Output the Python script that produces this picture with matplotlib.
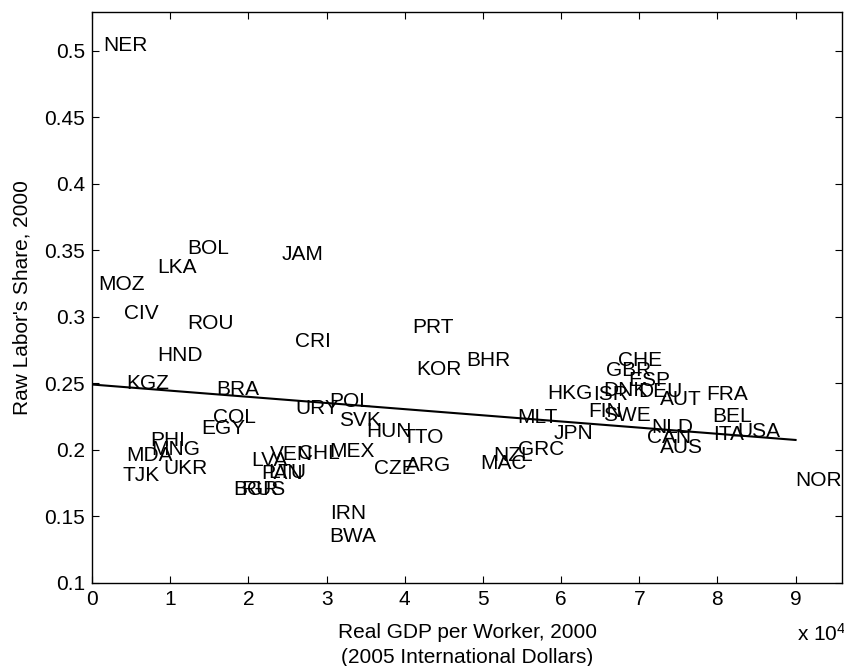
import matplotlib
matplotlib.use("Agg")
import matplotlib.pyplot as plt
from matplotlib.ticker import FixedLocator, FuncFormatter

plt.rcParams['font.family'] = ['Liberation Sans', 'DejaVu Sans']
plt.rcParams['mathtext.fontset'] = 'custom'
plt.rcParams['mathtext.rm'] = 'Liberation Sans'
plt.rcParams['mathtext.it'] = 'Liberation Sans'

# country codes, real GDP per worker (2005 intl $) and raw labor share, year 2000
countries = ["NER", "MOZ", "CIV", "LKA", "BOL", "ROU", "HND", "KGZ", "BRA", "COL",
             "EGY", "PHI", "MNG", "MDA", "UKR", "TJK", "JAM", "CRI", "URY", "POL",
             "SVK", "HUN", "TTO", "MEX", "CHL", "VEN", "LVA", "PAN", "LTU", "BGR",
             "RUS", "CZE", "ARG", "IRN", "BWA", "PRT", "KOR", "BHR", "MLT", "JPN",
             "GRC", "NZL", "MAC", "HKG", "ISR", "DNK", "CHE", "GBR", "ESP", "DEU",
             "AUT", "FIN", "SWE", "NLD", "CAN", "AUS", "FRA", "BEL", "ITA", "USA",
             "NOR"]
gdp_per_worker = [1400, 850, 4100, 8300, 12200, 12200, 8300, 4350, 15900, 15500,
                  13900, 7400, 7600, 4400, 9100, 3900, 24300, 26000, 26000, 30300,
                  31600, 35100, 39700, 30300, 26400, 22700, 20300, 21700, 22500, 18100,
                  19100, 36100, 40200, 30400, 30400, 40900, 41500, 47900, 54400, 59000,
                  54500, 51300, 49700, 58200, 64100, 65400, 67300, 65700, 68600, 69900,
                  72600, 63500, 65400, 71500, 71000, 72600, 78600, 79400, 79500, 82500,
                  90000]
labor_share = [0.504, 0.324, 0.302, 0.337, 0.351, 0.295, 0.271, 0.2495, 0.245, 0.224,
               0.216, 0.207, 0.200, 0.196, 0.186, 0.1805, 0.347, 0.281, 0.231, 0.236,
               0.222, 0.2135, 0.209, 0.199, 0.197, 0.1965, 0.192, 0.182, 0.183, 0.170,
               0.170, 0.186, 0.188, 0.152, 0.135, 0.292, 0.260, 0.267, 0.224, 0.212,
               0.2005, 0.196, 0.190, 0.242, 0.2415, 0.2445, 0.267, 0.2596, 0.252, 0.2437,
               0.2377, 0.229, 0.226, 0.2165, 0.209, 0.202, 0.2416, 0.225, 0.2116, 0.2137,
               0.1765]

# fitted line
fit_intercept = 0.249
fit_slope = -4.63e-7
fit_x = [0, 90000]

fig = plt.figure(figsize=(8.45, 6.66), dpi=100)
ax = fig.add_axes([0.109, 0.125, 0.888, 0.857])

for name, gx, ls in zip(countries, gdp_per_worker, labor_share):
    ax.text(gx, ls, name, fontsize=15, ha='left', va='center')

fit_y = [fit_intercept + fit_slope * v for v in fit_x]
ax.plot(fit_x, fit_y, color='black', linewidth=1.5)

ax.set_xlim(0, 96000)
ax.set_ylim(0.1, 0.529)
ax.xaxis.set_major_locator(FixedLocator([i * 10000 for i in range(10)]))
ax.xaxis.set_major_formatter(FuncFormatter(lambda v, p: "%g" % (v / 10000)))
ax.yaxis.set_major_locator(FixedLocator([0.1, 0.15, 0.2, 0.25, 0.3, 0.35, 0.4, 0.45, 0.5]))
ax.yaxis.set_major_formatter(FuncFormatter(lambda v, p: "%g" % round(v, 2)))

ax.tick_params(direction='in', length=5, width=0.8, top=True, right=True,
               labelsize=15, pad=5)
for sp in ax.spines.values():
    sp.set_linewidth(1.0)

ax.set_xlabel("Real GDP per Worker, 2000\n(2005 International Dollars)", fontsize=15,
              linespacing=1.45, labelpad=10)
ax.set_ylabel("Raw Labor's Share, 2000", fontsize=15, labelpad=9)

fig.text(797 / 845, 1 - 634 / 666, "x 10$^{4}$", fontsize=15, ha='left', va='center')

fig.savefig("out.png", dpi=100)
